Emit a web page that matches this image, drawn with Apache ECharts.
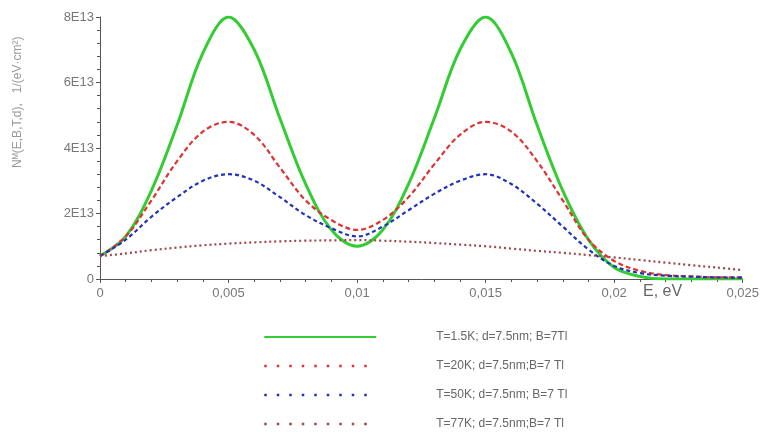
<!DOCTYPE html>
<html><head><meta charset="utf-8">
<script src="https://cdn.jsdelivr.net/npm/echarts@6/dist/echarts.min.js"></script>
<style>html,body{margin:0;padding:0;background:#fff}#c{width:762px;height:440px}</style>
</head><body><div id="c"></div>
<script>
// Energy grid (eV)
var energies = [0,0.001,0.002,0.003,0.004,0.005,0.006,0.007,0.008,0.009,0.010,0.011,0.012,0.013,0.014,0.015,0.016,0.017,0.018,0.019,0.020,0.021,0.022,0.023,0.024,0.025];
// Values in units of 1E13 1/(eV·cm²)
var t15 = [0.7,1.3,2.7,4.7,6.9,8.0,7.0,4.9,2.9,1.5,1.0,1.5,2.9,4.9,7.0,8.0,6.9,4.7,2.7,1.2,0.35,0.08,0.0,0.0,0.0,0.0];
var t20 = [0.7,1.3,2.4,3.6,4.5,4.8,4.4,3.4,2.4,1.8,1.5,1.8,2.5,3.5,4.4,4.8,4.5,3.6,2.4,1.2,0.55,0.25,0.12,0.08,0.05,0.05];
var t50 = [0.7,1.2,1.9,2.5,3.0,3.2,3.0,2.5,1.95,1.55,1.3,1.6,2.1,2.6,3.0,3.2,2.9,2.3,1.6,0.9,0.4,0.18,0.1,0.07,0.05,0.04];
var t77 = [0.7,0.78,0.88,0.96,1.03,1.08,1.12,1.15,1.17,1.18,1.19,1.17,1.14,1.1,1.05,1.0,0.93,0.86,0.8,0.73,0.66,0.58,0.5,0.42,0.35,0.27];
var seriesNames = ['T=1.5K; d=7.5nm; B=7Tl','T=20K; d=7.5nm;B=7 Tl','T=50K; d=7.5nm; B=7 Tl','T=77K; d=7.5nm;B=7 Tl'];
var xTickLabels = {0:'0',0.005:'0,005',0.01:'0,01',0.015:'0,015',0.02:'0,02',0.025:'0,025'};

function pairs(arr){ return energies.map(function(e,i){ return [e, arr[i]]; }); }
var chart = echarts.init(document.getElementById('c'));
var font = 'Liberation Sans, Arial, sans-serif';
function mk(name, data, color, type, width){
  return {name:name, type:'line', data:pairs(data), smooth:0.35, symbol:'none',
    lineStyle:{color:color, width:width, type:type}, itemStyle:{color:color}};
}
var dotted = {type:[2.5,10], width:2.5};
chart.setOption({
  animation:false,
  grid:{left:100, right:14, top:17, bottom:161},
  xAxis:{type:'value', min:0, max:0.025, interval:0.005,
    axisLine:{lineStyle:{color:'#555'}},
    axisTick:{lineStyle:{color:'#555'}, length:4},
    minorTick:{show:true, splitNumber:5, length:3, lineStyle:{color:'#555'}},
    splitLine:{show:false},
    axisLabel:{color:'#777', fontFamily:font, fontSize:13, margin:8,
      formatter:function(v){ var k = Math.round(v*1000)/1000; return xTickLabels[k]!==undefined?xTickLabels[k]:''; }}
  },
  yAxis:{type:'value', min:0, max:8, interval:2,
    axisLine:{show:true, lineStyle:{color:'#555'}},
    axisTick:{show:true, lineStyle:{color:'#555'}, length:4},
    minorTick:{show:true, splitNumber:5, length:3, lineStyle:{color:'#555'}},
    splitLine:{show:false},
    axisLabel:{color:'#777', fontFamily:font, fontSize:13, margin:6,
      formatter:function(v){ return v===0?'0':(v+'E13'); }}
  },
  legend:{orient:'vertical', left:258, top:326, itemWidth:112, itemHeight:12, itemGap:17,
    data:[
      {name:seriesNames[0]},
      {name:seriesNames[1], lineStyle:dotted},
      {name:seriesNames[2], lineStyle:dotted},
      {name:seriesNames[3], lineStyle:dotted}
    ],
    itemStyle:{opacity:0},
    textStyle:{color:'#666', fontFamily:font, fontSize:12, padding:[0,0,0,55]}},
  graphic:[
    {type:'text', left:643, top:284, style:{text:'E, eV', fill:'#666', font:'16px Liberation Sans, Arial, sans-serif'}},
    {type:'text', x:12, y:168, rotation:Math.PI/2,
      style:{text:'Nᴹ(E,B,T,d),   1/(eV·cm²)', fill:'#999', font:'12px Liberation Sans, Arial, sans-serif'}}
  ],
  series:[
    mk(seriesNames[0], t15, '#33cc33', 'solid', 3),
    mk(seriesNames[1], t20, '#dd3333', [5,3], 2.2),
    mk(seriesNames[2], t50, '#2233bb', [4,3], 2.2),
    mk(seriesNames[3], t77, '#a04848', [2,3], 2.2)
  ]
});
</script></body></html>
